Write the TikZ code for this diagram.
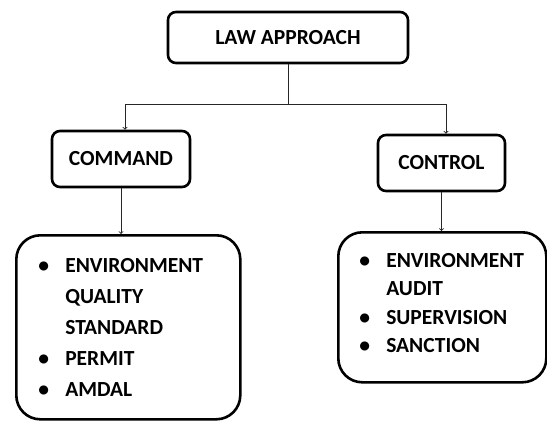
\documentclass[tikz,border=0pt]{standalone}
\usepackage{fontspec}
\setmainfont{Carlito}
\newcommand{\itm}[1]{\makebox[22pt][l]{\hspace{-5pt}\textbullet}#1}
\newcommand{\cnt}[1]{\hspace*{22pt}#1}
\begin{document}
\begin{tikzpicture}[x=1pt,y=-1pt,
	box/.style={draw,line width=2.6pt,rounded corners=8pt,inner sep=0pt,
		font=\bfseries\fontsize{21.5}{24}\selectfont},
	listbox/.style={box,rounded corners=24pt,anchor=north west,align=left},
	link/.style={line width=0.9pt,draw=black!85}]
\useasboundingbox (0,0) rectangle (547,421);
\node[box,minimum width=240pt,minimum height=51pt] (law) at (288,37.5) {LAW APPROACH};
\node[box,minimum width=138pt,minimum height=56pt] (command) at (121,159) {COMMAND};
\node[box,minimum width=127pt,minimum height=56pt] (control) at (441.5,163) {CONTROL};
\node[listbox,minimum height=184pt,inner xsep=27pt,text width=170pt,
	font=\bfseries\fontsize{21.5}{31}\selectfont] (cmdlist) at (15,234)
	{\itm{ENVIRONMENT}\\\cnt{QUALITY}\\\cnt{STANDARD}\\\itm{PERMIT}\\\itm{AMDAL}};
\node[listbox,minimum height=150pt,inner xsep=26pt,text width=156pt,
	font=\bfseries\fontsize{21.5}{28.5}\selectfont] (ctrllist) at (337,231)
	{\itm{ENVIRONMENT}\\\cnt{AUDIT}\\\itm{SUPERVISION}\\\itm{SANCTION}\\[-20pt]\mbox{}};
% joints of the split line
\coordinate (jl) at (125,104);
\coordinate (jr) at (446,104);
\draw[link] (law.south) -- (law.south |- jl);
\draw[link] (jl) -- (jr);
\draw[link,->] (jl) -- (jl |- command.north);
\draw[link,->] (jr) -- (jr |- control.north);
\draw[link,->] (command.south) -- (command.south |- cmdlist.north);
\draw[link,->] (control.south) -- (control.south |- ctrllist.north);
\end{tikzpicture}
\end{document}
